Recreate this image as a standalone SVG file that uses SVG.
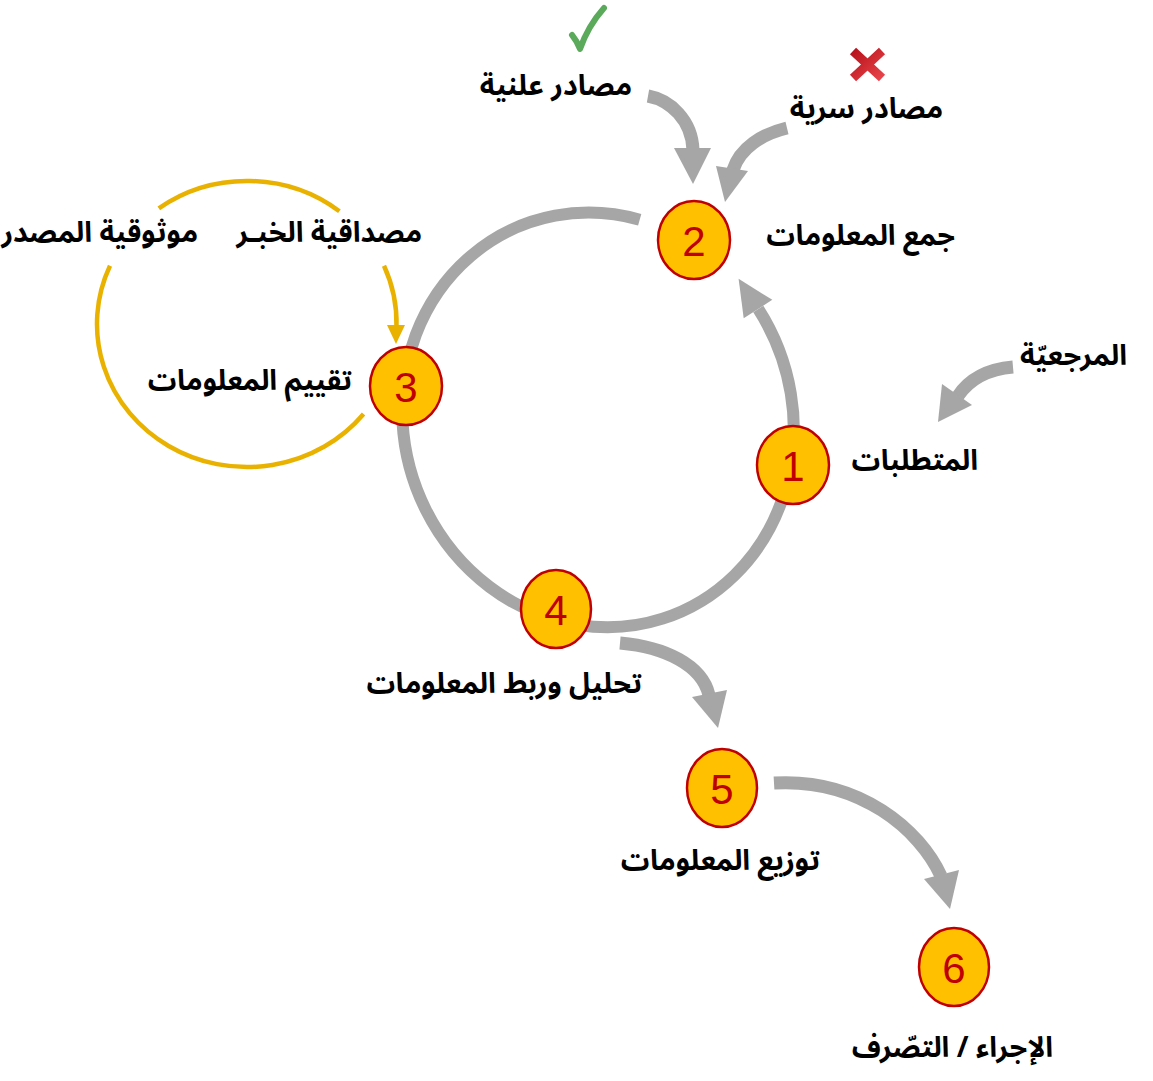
<svg xmlns="http://www.w3.org/2000/svg" width="1153" height="1081" viewBox="0 0 1153 1081">
<style>
.ring{fill:none;stroke:#A6A6A6;stroke-width:12}
.arr{fill:none;stroke:#A6A6A6;stroke-width:13}
.head{fill:#A6A6A6}
.gold{fill:none;stroke:#E9B200;stroke-width:4.5}
.ghead{fill:#E9B200}
.node{fill:#FFC000;stroke:#C00000;stroke-width:2.5}
.num{font-family:"Liberation Sans",Arial,sans-serif;font-size:42px;fill:#C00000;text-anchor:middle}
.lbl{font-family:"Noto Sans Arabic","DejaVu Sans",sans-serif;font-size:28.5px;font-weight:bold;fill:#000;text-anchor:end}
</style>
<defs>
<linearGradient id="xg" x1="0" y1="0" x2="1" y2="1">
<stop offset="0" stop-color="#B8121C"/>
<stop offset="1" stop-color="#E8424A"/>
</linearGradient>
</defs>
<rect width="1153" height="1081" fill="#fff"/>
<g id="connectors">
<path class="ring" d="M639.7,219.7 A209,194 70 1,0 758.3,309.1"/>
<polygon class="head" points="738.6,278.8 772.3,299.8 743.7,318.2"/>
<path class="arr" d="M648,96 C670,100 692,120 693,150"/>
<polygon class="head" points="674,148 711,148 693,184"/>
<path class="arr" d="M787,128 C762,134 740,148 733,170"/>
<polygon class="head" points="716,166 748,171 725,202"/>
<path class="arr" d="M1013,367 C990,369 970,378 958,396"/>
<polygon class="head" points="942,384 972,405 938,422"/>
<path class="arr" d="M620,643 C665,647 702,665 709,695"/>
<polygon class="head" points="692,697 727,690 718,728"/>
<path class="arr" d="M774,783 C860,778 920,830 941,876"/>
<polygon class="head" points="924,879 959,870 950,909"/>
<path class="gold" d="M158.8,208.3 A150,143 0 0,1 339.4,211.3"/>
<path class="gold" d="M110,265.8 A150,143 0 0,0 363.6,414"/>
<path class="gold" d="M384,265.8 A150,143 0 0,1 396.5,327"/>
<polygon class="ghead" points="387,325 405,325 396,344"/>
</g>
<g id="check">
<path d="M572,35 Q577,41 580,49 Q588,26 604,8" fill="none" stroke="#5BAA5B" stroke-width="6" stroke-linecap="round" stroke-linejoin="round"/>
</g>
<g id="cross">
<path d="M853,51 L882,78 M882,51 L853,78" stroke="url(#xg)" stroke-width="9"/>
</g>
<g id="src-open"><text class="lbl" x="632" y="95">مصادر علنية</text></g>
<g id="src-secret"><text class="lbl" x="943" y="118">مصادر سرية</text></g>
<g id="reference"><text class="lbl" x="1127" y="365">المرجعيّة</text></g>
<g id="credibility"><text class="lbl" x="422" y="242">مصداقية الخبـر</text></g>
<g id="reliability"><text class="lbl" x="198" y="242">موثوقية المصدر</text></g>
<g id="node-1">
<ellipse class="node" cx="793" cy="465" rx="36" ry="39"/>
<text class="num" x="793" y="481">1</text>
<text class="lbl" x="978" y="470">المتطلبات</text>
</g>
<g id="node-2">
<ellipse class="node" cx="694" cy="240" rx="36" ry="39"/>
<text class="num" x="694" y="256">2</text>
<text class="lbl" x="955" y="245">جمع المعلومات</text>
</g>
<g id="node-3">
<ellipse class="node" cx="406" cy="386" rx="36" ry="39"/>
<text class="num" x="406" y="402">3</text>
<text class="lbl" x="352" y="390">تقييم المعلومات</text>
</g>
<g id="node-4">
<ellipse class="node" cx="556" cy="609" rx="35" ry="39"/>
<text class="num" x="556" y="625">4</text>
<text class="lbl" x="642" y="693">تحليل وربط المعلومات</text>
</g>
<g id="node-5">
<ellipse class="node" cx="722" cy="788" rx="35" ry="39"/>
<text class="num" x="722" y="804">5</text>
<text class="lbl" x="820" y="870">توزيع المعلومات</text>
</g>
<g id="node-6">
<ellipse class="node" cx="954" cy="967" rx="35" ry="39"/>
<text class="num" x="954" y="983">6</text>
<text class="lbl" x="1053" y="1057">الإجراء / التصّرف</text>
</g>
</svg>
